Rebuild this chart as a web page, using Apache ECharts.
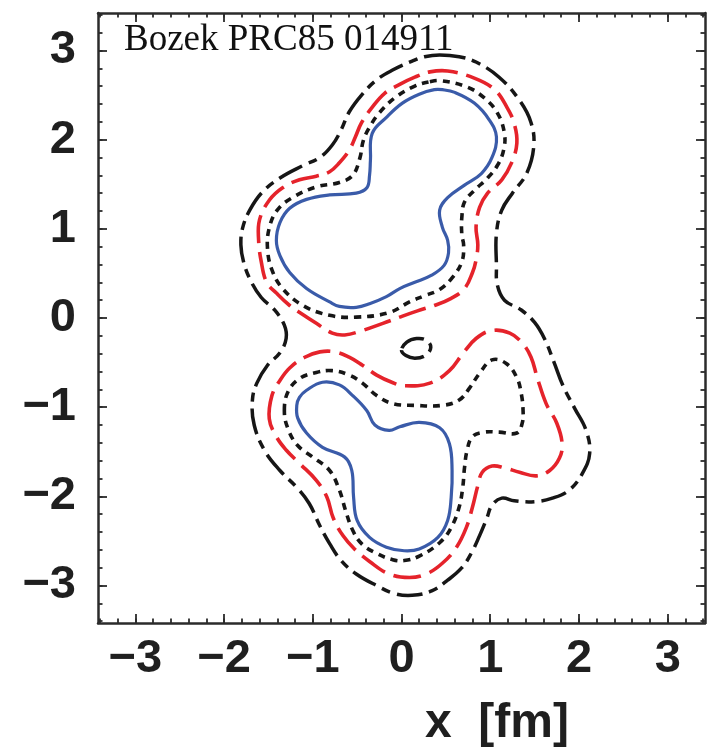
<!DOCTYPE html>
<html>
<head>
<meta charset="utf-8">
<script src="https://cdn.jsdelivr.net/npm/echarts@6/dist/echarts.min.js"></script>
<style>
  html, body { margin: 0; padding: 0; background: #ffffff; }
  #chart { width: 708px; height: 753px; }
</style>
</head>
<body>
<div id="chart"></div>
<script>
// Transverse density contours, x and y in fm.
const axisMin = -3.42;
const axisMax = 3.42;
const majorTicks = [-3, -2, -1, 0, 1, 2, 3];
const minorTicks = [-3.4, -3.2, -3, -2.8, -2.6, -2.4, -2.2, -2, -1.8, -1.6, -1.4, -1.2, -1, -0.8, -0.6, -0.4, -0.2, 0,
  0.2, 0.4, 0.6, 0.8, 1, 1.2, 1.4, 1.6, 1.8, 2, 2.2, 2.4, 2.6, 2.8, 3, 3.2, 3.4];

const titleText = 'Bozek PRC85 014911';
const xTitle = 'x  [fm]';

// Outermost level: one contour around both hot spots, plus a small hole
const outerLevel = [
  [0.43, 2.95], [0.65, 2.93], [0.84, 2.87], [1.10, 2.70], [1.33, 2.44], [1.46, 2.19], [1.49, 1.92],
  [1.41, 1.62], [1.25, 1.40], [1.13, 1.21], [1.07, 0.95], [1.07, 0.59], [1.08, 0.37], [1.16, 0.20],
  [1.35, 0.09], [1.50, -0.05], [1.61, -0.23], [1.72, -0.50], [1.82, -0.76], [1.95, -1.01], [2.08, -1.26],
  [2.12, -1.52], [2.04, -1.74], [1.89, -1.93], [1.70, -2.02], [1.50, -2.06], [1.27, -2.05], [1.13, -2.02],
  [1.02, -2.10], [0.96, -2.25], [0.88, -2.44], [0.79, -2.63], [0.68, -2.80], [0.52, -2.94], [0.34, -3.06],
  [0.12, -3.11], [-0.08, -3.09], [-0.28, -3.00], [-0.51, -2.87], [-0.68, -2.72], [-0.81, -2.53], [-0.92, -2.33],
  [-1.04, -2.08], [-1.18, -1.90], [-1.37, -1.71], [-1.54, -1.49], [-1.66, -1.20], [-1.68, -0.92], [-1.63, -0.73],
  [-1.51, -0.53], [-1.37, -0.39], [-1.30, -0.23], [-1.32, -0.08], [-1.43, 0.09], [-1.58, 0.23], [-1.70, 0.42],
  [-1.78, 0.63], [-1.81, 0.82], [-1.79, 1.01], [-1.71, 1.21], [-1.57, 1.41], [-1.37, 1.57], [-1.11, 1.71],
  [-0.92, 1.80], [-0.78, 1.94], [-0.68, 2.11], [-0.59, 2.31], [-0.45, 2.50], [-0.28, 2.67], [-0.10, 2.78],
  [0.12, 2.88], [0.26, 2.93]
];
const outerHole = [
  [0.00, -0.36], [0.05, -0.42], [0.15, -0.45], [0.27, -0.42], [0.33, -0.33], [0.28, -0.25], [0.17, -0.23], [0.06, -0.27]
];

// Second level (red dashes)
const redUpper = [
  [0.32, 2.76], [0.52, 2.77], [0.82, 2.69], [1.05, 2.56], [1.19, 2.36], [1.27, 2.18], [1.30, 1.96], [1.24, 1.74],
  [1.13, 1.55], [0.97, 1.40], [0.88, 1.24], [0.84, 1.02], [0.86, 0.82], [0.84, 0.65], [0.80, 0.51], [0.71, 0.33],
  [0.56, 0.22], [0.37, 0.14], [0.18, 0.08], [-0.02, 0.01], [-0.21, -0.06], [-0.44, -0.14], [-0.64, -0.19],
  [-0.78, -0.17], [-0.96, -0.06], [-1.13, 0.05], [-1.26, 0.14], [-1.41, 0.28], [-1.52, 0.40], [-1.58, 0.63],
  [-1.61, 0.87], [-1.60, 1.10], [-1.49, 1.32], [-1.34, 1.46], [-1.15, 1.55], [-0.96, 1.59], [-0.81, 1.64],
  [-0.70, 1.74], [-0.59, 1.88], [-0.52, 2.03], [-0.45, 2.19], [-0.34, 2.35], [-0.19, 2.52], [-0.02, 2.62], [0.15, 2.70]
];
const redLower = [
  [-1.49, -1.13], [-1.46, -0.87], [-1.37, -0.70], [-1.26, -0.56], [-1.09, -0.44], [-0.92, -0.38], [-0.75, -0.38],
  [-0.59, -0.44], [-0.44, -0.53], [-0.28, -0.64], [-0.11, -0.72], [0.03, -0.76], [0.32, -0.73], [0.54, -0.59],
  [0.69, -0.40], [0.84, -0.23], [1.02, -0.14], [1.22, -0.17], [1.36, -0.28], [1.46, -0.44], [1.53, -0.67],
  [1.63, -0.96], [1.75, -1.18], [1.81, -1.41], [1.78, -1.57], [1.67, -1.71], [1.52, -1.77], [1.33, -1.73],
  [1.16, -1.68], [1.02, -1.66], [0.91, -1.73], [0.86, -1.88], [0.80, -2.12], [0.73, -2.35], [0.62, -2.57],
  [0.46, -2.75], [0.28, -2.87], [0.09, -2.91], [-0.14, -2.87], [-0.36, -2.73], [-0.53, -2.59], [-0.66, -2.44],
  [-0.77, -2.24], [-0.84, -2.01], [-0.96, -1.82], [-1.15, -1.63], [-1.30, -1.48], [-1.41, -1.33]
];

// Third level (short black dashes)
const dotUpper = [
  [0.32, 2.65], [0.45, 2.66], [0.74, 2.59], [0.93, 2.47], [1.08, 2.30], [1.16, 2.07], [1.15, 1.88], [1.08, 1.71],
  [0.97, 1.57], [0.82, 1.43], [0.71, 1.30], [0.68, 1.13], [0.68, 0.93], [0.70, 0.82], [0.68, 0.63], [0.57, 0.45],
  [0.43, 0.32], [0.26, 0.25], [0.09, 0.18], [-0.14, 0.06], [-0.51, 0.01], [-0.81, 0.03], [-1.11, 0.14],
  [-1.34, 0.33], [-1.46, 0.54], [-1.51, 0.78], [-1.49, 1.01], [-1.40, 1.21], [-1.23, 1.35], [-0.96, 1.47],
  [-0.70, 1.52], [-0.55, 1.60], [-0.47, 1.79], [-0.43, 1.99], [-0.36, 2.14], [-0.25, 2.30], [-0.06, 2.48], [0.15, 2.60]
];
const dotLower = [
  [-1.32, -1.04], [-1.28, -0.83], [-1.15, -0.68], [-0.96, -0.61], [-0.78, -0.59], [-0.59, -0.64], [-0.44, -0.73],
  [-0.28, -0.87], [-0.10, -0.96], [0.15, -0.98], [0.46, -0.98], [0.65, -0.92], [0.77, -0.78], [0.88, -0.62],
  [1.02, -0.47], [1.18, -0.51], [1.30, -0.67], [1.35, -0.85], [1.37, -1.04], [1.36, -1.18], [1.30, -1.29],
  [1.10, -1.28], [0.93, -1.28], [0.80, -1.33], [0.74, -1.48], [0.71, -1.68], [0.69, -1.90], [0.65, -2.12],
  [0.56, -2.35], [0.43, -2.52], [0.20, -2.67], [0.03, -2.72], [-0.10, -2.71], [-0.28, -2.64], [-0.45, -2.53],
  [-0.55, -2.38], [-0.63, -2.16], [-0.70, -1.93], [-0.81, -1.71], [-1.00, -1.56], [-1.17, -1.43], [-1.28, -1.24]
];

// Innermost level (solid blue)
const blueUpper = [
  [0.46, 2.56], [0.60, 2.53], [0.82, 2.41], [0.99, 2.22], [1.07, 2.03], [1.02, 1.80], [0.90, 1.62], [0.71, 1.49],
  [0.52, 1.35], [0.43, 1.21], [0.46, 1.02], [0.52, 0.87], [0.53, 0.73], [0.48, 0.59], [0.34, 0.48], [0.15, 0.40],
  [-0.02, 0.33], [-0.17, 0.24], [-0.36, 0.16], [-0.51, 0.12], [-0.70, 0.13], [-0.81, 0.18], [-1.07, 0.33],
  [-1.26, 0.51], [-1.37, 0.70], [-1.41, 0.87], [-1.37, 1.07], [-1.26, 1.23], [-1.07, 1.33], [-0.81, 1.38],
  [-0.51, 1.40], [-0.39, 1.46], [-0.36, 1.60], [-0.35, 1.77], [-0.33, 2.07], [-0.17, 2.25], [0.01, 2.41],
  [0.20, 2.51], [0.37, 2.56]
];
const blueLower = [
  [-1.15, -0.89], [-1.07, -0.81], [-0.89, -0.72], [-0.70, -0.75], [-0.55, -0.87], [-0.39, -1.04], [-0.30, -1.20],
  [-0.14, -1.26], [-0.02, -1.22], [0.20, -1.17], [0.43, -1.23], [0.54, -1.41], [0.57, -1.71], [0.56, -2.01],
  [0.52, -2.27], [0.41, -2.46], [0.20, -2.59], [0.03, -2.61], [-0.17, -2.57], [-0.36, -2.46], [-0.50, -2.27],
  [-0.54, -2.01], [-0.56, -1.71], [-0.64, -1.56], [-0.89, -1.45], [-1.07, -1.29], [-1.17, -1.12], [-1.18, -0.98]
];

const AXIS_COLOR = '#2b2b2b';
const BLACK = '#161616';
const RED = '#e5232b';
const BLUE = '#3a5ba9';

const dashOuter = [26, 7, 9, 7];
const dashRed = [28, 9];
const dashDot = [7, 6];

// One closed, smoothed contour per custom series, mapped through the grid's axes.
function contour(name, pts, color, width, dash) {
  return {
    type: 'custom',
    name: name,
    coordinateSystem: 'cartesian2d',
    xAxisIndex: 0,
    yAxisIndex: 0,
    data: pts,
    encode: { x: 0, y: 1 },
    silent: true,
    animation: false,
    renderItem: function (params, api) {
      if (params.dataIndex !== 0) return null;
      const points = pts.map(function (p) { return api.coord(p); });
      return {
        type: 'polygon',
        shape: { points: points, smooth: 0.4 },
        style: { fill: 'none', stroke: color, lineWidth: width, lineDash: dash, lineCap: 'butt', lineJoin: 'round' }
      };
    }
  };
}

const minusFmt = function (v) { return String(v).replace('-', '\u2212'); };

function frameAxis(dim, position, ticks, len, withLabels, withLine) {
  const a = {
    type: 'value',
    min: axisMin,
    max: axisMax,
    position: position,
    splitLine: { show: false },
    axisLine: { show: withLine, onZero: false, lineStyle: { color: AXIS_COLOR, width: 2.5 } },
    axisTick: { show: true, inside: true, length: len, customValues: ticks, lineStyle: { color: AXIS_COLOR, width: 1.8 } },
    axisLabel: { show: false }
  };
  if (withLabels) {
    a.axisLabel = {
      show: true,
      customValues: majorTicks,
      formatter: minusFmt,
      fontFamily: 'Liberation Sans, Arial, sans-serif',
      fontWeight: 'bold',
      fontSize: 47,
      color: '#1f1f1f',
      margin: dim === 'x' ? 13 : 22
    };
  }
  return a;
}

const chart = echarts.init(document.getElementById('chart'), null, { renderer: 'canvas' });
chart.setOption({
  backgroundColor: '#ffffff',
  animation: false,
  grid: { left: 98, top: 13, width: 607, height: 610, containLabel: false },
  xAxis: [
    frameAxis('x', 'bottom', majorTicks, 9, true, true),
    frameAxis('x', 'bottom', minorTicks, 4.5, false, false),
    frameAxis('x', 'top', majorTicks, 9, false, true),
    frameAxis('x', 'top', minorTicks, 4.5, false, false)
  ],
  yAxis: [
    frameAxis('y', 'left', majorTicks, 9, true, true),
    frameAxis('y', 'left', minorTicks, 4.5, false, false),
    frameAxis('y', 'right', majorTicks, 9, false, true),
    frameAxis('y', 'right', minorTicks, 4.5, false, false)
  ],
  graphic: [
    {
      type: 'text',
      left: 124,
      top: 22,
      style: { text: titleText, font: '37px "Liberation Serif", "Times New Roman", serif', fill: '#111111' }
    },
    {
      type: 'text',
      x: 497,
      y: 700,
      style: {
        text: xTitle,
        font: 'bold 48px "Liberation Sans", Arial, sans-serif',
        fill: '#1f1f1f',
        align: 'center',
        verticalAlign: 'top'
      }
    }
  ],
  series: [
    contour('outer', outerLevel, BLACK, 3.5, dashOuter),
    contour('outer hole', outerHole, BLACK, 3.5, dashOuter),
    contour('red upper', redUpper, RED, 3.6, dashRed),
    contour('red lower', redLower, RED, 3.6, dashRed),
    contour('dot upper', dotUpper, BLACK, 3.6, dashDot),
    contour('dot lower', dotLower, BLACK, 3.6, dashDot),
    contour('blue upper', blueUpper, BLUE, 3.2, null),
    contour('blue lower', blueLower, BLUE, 3.2, null)
  ]
});
</script>
</body>
</html>
